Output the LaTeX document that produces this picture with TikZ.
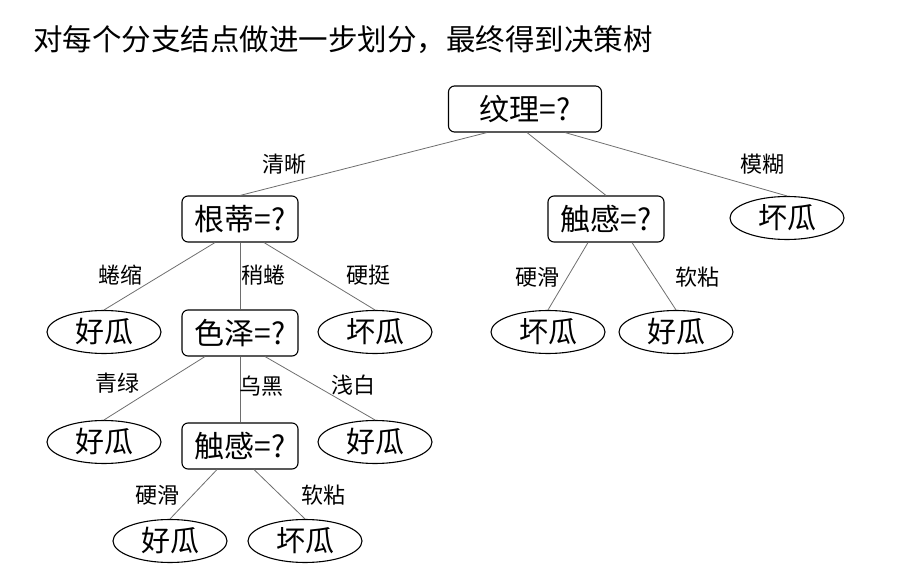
\documentclass[tikz,border=0pt]{standalone}
\usepackage{fontspec}
\newfontfamily\cjk{Noto Sans CJK SC}
\usetikzlibrary{positioning, shapes.geometric}
\definecolor{edgegray}{HTML}{6E6E6E}

\begin{document}
\begin{tikzpicture}[
    x=1pt, y=-1pt,
    test/.style={draw, line width=1.1pt, rounded corners=6pt, minimum width=116pt, minimum height=46pt, inner sep=0pt, font=\cjk\fontsize{30}{32}\selectfont},
    leaf/.style={draw, ellipse, line width=1.1pt, minimum width=114pt, minimum height=43pt, inner sep=0pt, font=\cjk\fontsize{29}{31}\selectfont},
    lab/.style={font=\cjk\fontsize{22}{24}\selectfont, inner sep=0pt},
    edge/.style={edgegray, line width=0.8pt}
]
\useasboundingbox (0,0) rectangle (914,577);

% Title
\node[anchor=west, inner sep=0pt, font=\cjk\fontsize{29.5}{32}\selectfont] (title) at (33,40) {对每个分支结点做进一步划分，最终得到决策树};

% Level 1
\node[test, minimum width=153pt] (wl) at (525,109) {纹理=?};

% Level 2
\node[test] (gd) at (240,219) {根蒂=?};
\node[test] (cg1) at (606,219) {触感=?};
\node[leaf] (mh) at (787,218) {坏瓜};

% Level 3
\node[leaf] (qs) at (104,332) {好瓜};
\node[test] (sz) at (240,333) {色泽=?};
\node[leaf] (yt) at (375,332) {坏瓜};
\node[leaf] (yh1) at (548,332) {坏瓜};
\node[leaf] (rn1) at (676,332) {好瓜};

% Level 4
\node[leaf] (ql) at (104,442) {好瓜};
\node[test] (cg2) at (240,446) {触感=?};
\node[leaf] (qb) at (375,442) {好瓜};

% Level 5
\node[leaf] (yh2) at (170,541) {好瓜};
\node[leaf] (rn2) at (305,541) {坏瓜};

% Edges from 纹理
\draw[edge] ([xshift=-38pt]wl.south) -- (gd.north);
\draw[edge] ([xshift=2pt]wl.south) -- (cg1.north);
\draw[edge] ([xshift=40pt]wl.south) -- (mh.north);

% Edges from 根蒂
\draw[edge] ([xshift=-25pt]gd.south) -- (qs.north);
\draw[edge] (gd.south) -- (sz.north);
\draw[edge] ([xshift=24pt]gd.south) -- (yt.north);

% Edges from 触感 (right)
\draw[edge] ([xshift=-18pt]cg1.south) -- (yh1.north);
\draw[edge] ([xshift=26pt]cg1.south) -- (rn1.north);

% Edges from 色泽
\draw[edge] ([xshift=-35pt]sz.south) -- (ql.north);
\draw[edge] (sz.south) -- (cg2.north);
\draw[edge] ([xshift=25pt]sz.south) -- (qb.north);

% Edges from 触感 (lower)
\draw[edge] ([xshift=-23pt]cg2.south) -- (yh2.north);
\draw[edge] ([xshift=14pt]cg2.south) -- (rn2.north);

% Labels
\node[lab] (l-qx) at (284,164) {清晰};
\node[lab] (l-mh) at (762,164) {模糊};
\node[lab] (l-qs) at (120,275) {蜷缩};
\node[lab] (l-sq) at (263,275) {稍蜷};
\node[lab] (l-yt) at (368,275) {硬挺};
\node[lab] (l-yh1) at (537,277) {硬滑};
\node[lab] (l-rn1) at (697,277) {软粘};
\node[lab] (l-ql) at (117,383) {青绿};
\node[lab] (l-wh) at (261,386) {乌黑};
\node[lab] (l-qb) at (353,385) {浅白};
\node[lab] (l-yh2) at (157,495) {硬滑};
\node[lab] (l-rn2) at (323,495) {软粘};

\end{tikzpicture}
\end{document}
